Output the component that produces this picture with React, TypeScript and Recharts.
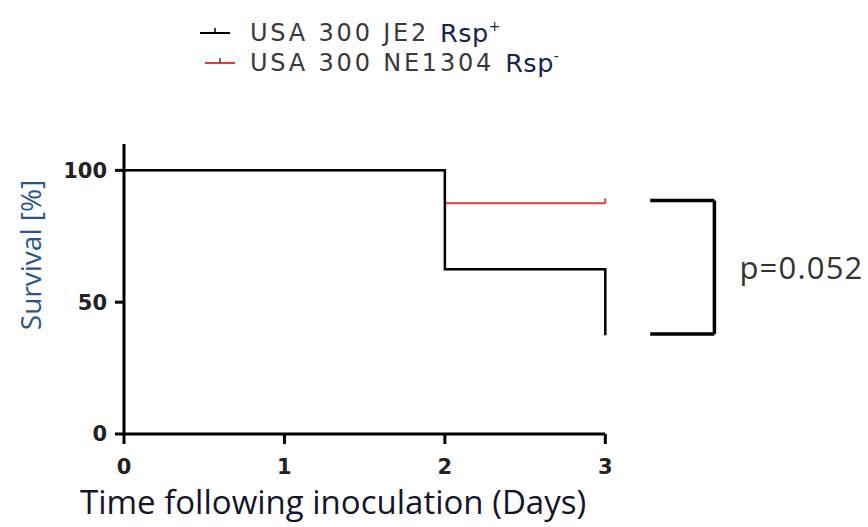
import React from 'react';
import { ComposedChart, Line, XAxis, YAxis, ReferenceLine, Legend } from 'recharts';

// Kaplan-Meier survival data (stepAfter)
const jeDays = [0, 2, 3];
const jeSurvival = [100, 62.5, 37.5];
const neDays = [0, 2, 3];
const neSurvival = [100, 87.5, 87.5];

const xTicks = [0, 1, 2, 3];
const yTicks = [0, 50, 100];

const seriesNames = ['USA 300 JE2', 'USA 300 NE1304'];
const seriesSup = ['+', '-'];
const seriesColors = ['#000000', '#e8383a'];

// significance bracket (in data units)
const bracketX = [3.28, 3.68];
const bracketY = [88.6, 37.9];
const pLabel = 'p=0.052';

const jeData = jeDays.map((d, i) => ({ day: d, s: jeSurvival[i] }));
const neData = neDays.map((d, i) => ({ day: d, s: neSurvival[i] }));

const CensorDot = (props: any) => {
  const { cx, cy, index, stroke } = props;
  if (index !== neData.length - 1 || cx == null) return <g key={`d${index}`} />;
  return <line key={`d${index}`} x1={cx} x2={cx} y1={cy} y2={cy - 5} stroke={stroke} strokeWidth={2} />;
};

const LegendContent = () => (
  <div style={{ fontFamily: '"DejaVu Sans", sans-serif', fontSize: 24, color: '#3a3a3a', lineHeight: '30px' }}>
    {seriesNames.map((n, i) => (
      <div key={n} style={{ display: 'flex', alignItems: 'center', whiteSpace: 'pre', height: 30 }}>
        <svg width={50} height={30} style={{ marginRight: 2 }}>
          <line x1={i === 0 ? 2 : 7} x2={i === 0 ? 32 : 37} y1={15} y2={15} stroke={seriesColors[i]} strokeWidth={2} />
          <line x1={i === 0 ? 17 : 22} x2={i === 0 ? 17 : 22} y1={15} y2={10} stroke={i === 0 ? '#000' : '#444'} strokeWidth={1.5} />
        </svg>
        <span style={{ letterSpacing: 2.8 }}>{n}</span>
        <span style={{ color: '#15254f', fontSize: 25.5, marginLeft: 11, letterSpacing: 0.5 }}>
          Rsp<sup style={{ fontSize: 14, lineHeight: '14px', verticalAlign: 'top', position: 'relative', top: 1 }}>{seriesSup[i]}</sup>
        </span>
      </div>
    ))}
  </div>
);

export default function App() {
  return (
    <div style={{ position: 'absolute', left: 0, top: 0, background: '#fff' }}>
      <ComposedChart width={868} height={527} margin={{ top: 144, right: 6, bottom: 0, left: 0 }}>
        <XAxis
          dataKey="day"
          type="number"
          domain={[0, 4.6]}
          ticks={xTicks}
          axisLine={false}
          tickLine={{ stroke: '#000', strokeWidth: 3 }}
          tickSize={10}
          tickMargin={15}
          height={93}
          tick={{ fontFamily: '"DejaVu Sans", sans-serif', fontWeight: 'bold', fontSize: 21, fill: '#222' }}
          allowDataOverflow
          label={{
            content: (p: any) => (
              <text x={p.viewBox.x - 44} y={p.viewBox.y + 80} fontFamily='"Open Sans", sans-serif' fontSize={33} fill="#15152a">
                Time following inoculation (Days)
              </text>
            ),
          }}
        />
        <YAxis
          type="number"
          domain={[0, 110]}
          ticks={yTicks}
          width={124}
          axisLine={{ stroke: '#000', strokeWidth: 3 }}
          tickLine={{ stroke: '#000', strokeWidth: 3 }}
          tickSize={9}
          tickMargin={8}
          tick={{ fontFamily: '"DejaVu Sans", sans-serif', fontWeight: 'bold', fontSize: 21, fill: '#222' }}
          label={{
            content: () => (
              <text
                x={30}
                y={255}
                transform="rotate(-90, 30, 255)"
                textAnchor="middle"
                dominantBaseline="central"
                fontFamily='"Open Sans", sans-serif'
                fontSize={28}
                fill="#2a5592"
              >
                Survival [%]
              </text>
            ),
          }}
        />
        <ReferenceLine segment={[{ x: 0, y: 0 }, { x: 3, y: 0 }]} stroke="#000" strokeWidth={3} />
        <Line
          data={neData}
          dataKey="s"
          type="stepAfter"
          stroke={seriesColors[1]}
          strokeWidth={2}
          dot={<CensorDot />}
          isAnimationActive={false}
          legendType="none"
        />
        <Line
          data={jeData}
          dataKey="s"
          type="stepAfter"
          stroke={seriesColors[0]}
          strokeWidth={2.5}
          dot={false}
          isAnimationActive={false}
          legendType="none"
        />
        <ReferenceLine segment={[{ x: bracketX[0], y: bracketY[0] }, { x: bracketX[1], y: bracketY[0] }]} stroke="#000" strokeWidth={3.5} ifOverflow="visible" />
        <ReferenceLine segment={[{ x: bracketX[0], y: bracketY[1] }, { x: bracketX[1], y: bracketY[1] }]} stroke="#000" strokeWidth={3.5} ifOverflow="visible" />
        <ReferenceLine
          segment={[{ x: bracketX[1], y: bracketY[0] }, { x: bracketX[1], y: bracketY[1] }]}
          stroke="#000"
          strokeWidth={3.5}
          ifOverflow="visible"
          label={{
            content: (p: any) => {
              const vb = p.viewBox || {};
              return (
                <text x={vb.x + 25} y={vb.y + vb.height / 2} dominantBaseline="central" fontFamily='"Open Sans", sans-serif' fontSize={31} letterSpacing={1.2} fill="#333">
                  {pLabel}
                </text>
              );
            },
          }}
        />
        <Legend
          layout="vertical"
          verticalAlign="middle"
          align="center"
          content={<LegendContent />}
          wrapperStyle={{ top: 18, left: 198, width: 'auto', height: 'auto' }}
        />
      </ComposedChart>
    </div>
  );
}
